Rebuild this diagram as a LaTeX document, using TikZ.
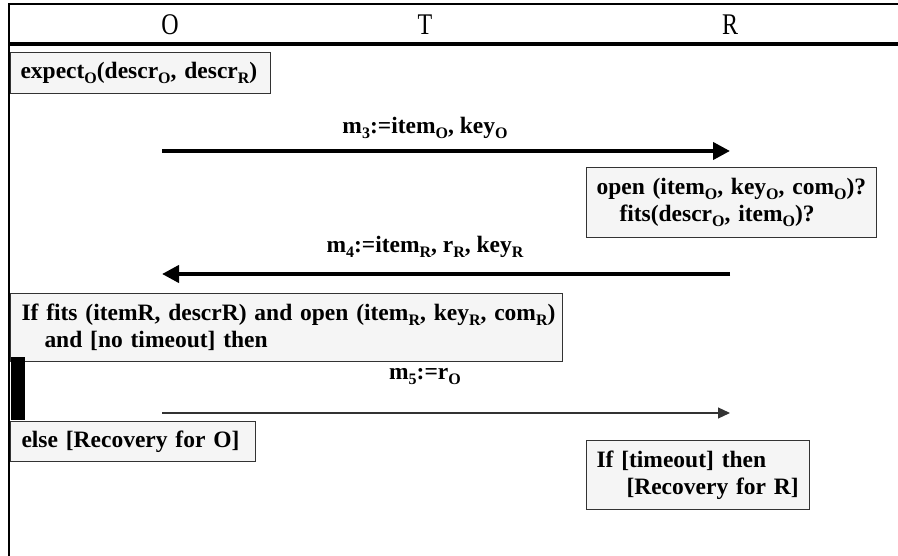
\documentclass[tikz,border=0pt]{standalone}
\usepackage{fontspec}
\setmainfont{Liberation Serif}
\newfontfamily\hdrfont[FakeStretch=0.8]{Liberation Serif}
\usetikzlibrary{arrows.meta}
\newcommand\sbs[1]{\raisebox{-5pt}{\fontsize{16}{16}\selectfont #1}}
\begin{document}
\begin{tikzpicture}[x=1pt,y=-1pt,
  lbl/.style={font=\fontsize{23.5}{27}\selectfont\bfseries, inner sep=0pt},
  box/.style={draw=black!80, fill=black!4, line width=1pt, anchor=north west,
    inner xsep=10pt, inner ysep=0pt, align=left,
    font=\fontsize{23.5}{27}\selectfont\bfseries},
  hdr/.style={font=\hdrfont\fontsize{30}{30}\selectfont, inner sep=0pt},
  bigarrow/.style={line width=4pt, -{Triangle[length=17pt,width=17pt]}},
  thinarrow/.style={line width=1.2pt, draw=black!80, -{Triangle[length=12pt,width=11pt]}}]
\useasboundingbox (0,0) rectangle (898,556);
% frame
\draw[line width=1.5pt] (9,4) -- (898,4);
\draw[line width=2pt] (9,3.25) -- (9,556);
\draw[line width=3.5pt] (9,44) -- (898,44);
% headers
\node[hdr] (hO) at (170,25) {O};
\node[hdr] (hT) at (425,25) {T};
\node[hdr] (hR) at (730,25) {R};
% boxes
\node[box, text width=240pt, minimum height=41pt] (expect) at (10,52)
  {\mbox{expect\sbs{O}(descr\sbs{O}, descr\sbs{R})}};
\node[box, text width=270pt, minimum height=70pt] (open) at (586,167)
  {\mbox{open (item\sbs{O}, key\sbs{O}, com\sbs{O})?}\\\mbox{\hspace*{23pt}fits(descr\sbs{O}, item\sbs{O})?}};
\node[box, text width=530pt, minimum height=68pt, inner xsep=11pt] (fits) at (10,293)
  {\mbox{If fits (itemR, descrR) and open (item\sbs{R}, key\sbs{R}, com\sbs{R})}\\\mbox{\hspace*{23pt}and [no timeout] then}};
\node[box, text width=223pt, minimum height=40pt, inner xsep=11pt] (else) at (10,421)
  {\mbox{else [Recovery for O]}};
\node[box, text width=203pt, minimum height=69pt] (tmo) at (586,440)
  {\mbox{If [timeout] then}\\\mbox{\hspace*{30pt}[Recovery for R]}};
% activation bar
\fill (11,357) rectangle (25,420);
% messages
\coordinate (O3) at (162,151);
\coordinate (R3) at (730,151);
\draw[bigarrow] (O3) -- (R3);
\node[lbl] (m3) at (425,128) {m\sbs{3}:=item\sbs{O}, key\sbs{O}};
\coordinate (R4) at (730,274);
\coordinate (O4) at (162,274);
\draw[bigarrow] (R4) -- (O4);
\node[lbl] (m4) at (425,247) {m\sbs{4}:=item\sbs{R}, r\sbs{R}, key\sbs{R}};
\coordinate (O5) at (162,413);
\coordinate (R5) at (730,413);
\draw[thinarrow] (O5) -- (R5);
\node[lbl] (m5) at (425,377) {m\sbs{5}:=r\sbs{O}};
\end{tikzpicture}
\end{document}
